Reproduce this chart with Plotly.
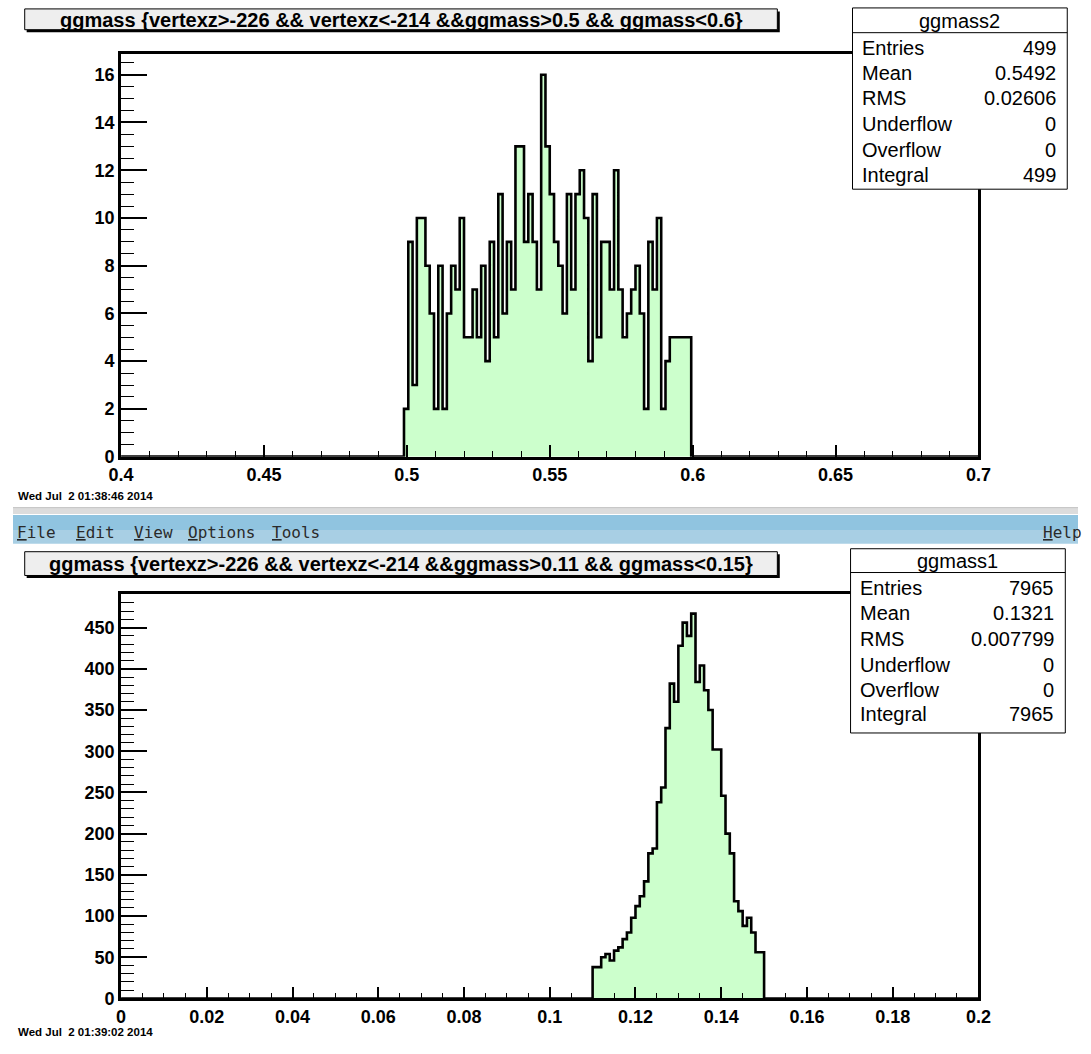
import numpy as np
import plotly.graph_objects as go

W, H = 1091, 1054

# ---------------- data ----------------
top_title = "ggmass {vertexz>-226 && vertexz<-214 &&ggmass>0.5 && ggmass<0.6}"
bot_title = "ggmass {vertexz>-226 && vertexz<-214 &&ggmass>0.11 && ggmass<0.15}"

top_bin_lo = 0.499
top_bin_w = 0.0015
top_counts = [2, 9, 3, 10, 10, 8, 6, 2, 8, 2, 6, 8, 7, 10, 5, 5, 7, 5, 8, 4, 9, 5, 11,
              6, 9, 7, 13, 13, 9, 11, 9, 7, 16, 13, 11, 9, 8, 6, 11, 7, 11, 12, 10, 4, 11,
              5, 9, 9, 7, 12, 7, 5, 6, 7, 8, 6, 2, 9, 7, 10, 2, 4, 5, 5, 5, 5, 5]

bot_bin_lo = 0.11
bot_bin_w = 0.001
bot_counts = [38, 38, 50, 54, 46, 58, 62, 72, 80, 98, 112, 124, 142, 176, 182, 238, 256,
              328, 382, 360, 428, 456, 440, 467, 384, 404, 374, 350, 302, 302, 246, 200,
              176, 118, 106, 88, 98, 80, 56, 56]

top_stats_name = "ggmass2"
top_stats_labels = ["Entries", "Mean", "RMS", "Underflow", "Overflow", "Integral"]
top_stats_values = ["499", "0.5492", "0.02606", "0", "0", "499"]
bot_stats_name = "ggmass1"
bot_stats_labels = ["Entries", "Mean", "RMS", "Underflow", "Overflow", "Integral"]
bot_stats_values = ["7965", "0.1321", "0.007799", "0", "0", "7965"]

top_date = "Wed Jul  2 01:38:46 2014"
bot_date = "Wed Jul  2 01:39:02 2014"
menu_items = ["File", "Edit", "View", "Options", "Tools"]
menu_help = "Help"

# ---------------- helpers ----------------
def PX(x):
    return x / W

def PY(y):
    return 1 - y / H

def step_xy(lo, w, counts, xmin, xmax):
    edges = lo + w * np.arange(len(counts) + 1)
    xs = [xmin, edges[0], edges[0]] + list(edges[1:-1]) + [edges[-1], edges[-1], xmax]
    ys = [0, 0, counts[0]] + list(counts[1:]) + [counts[-1], 0, 0]
    return xs, ys

FILL = "#ccffcc"
SANS = "Liberation Sans"
BOLD = dict(family=SANS, size=18, color="black", weight="bold")

fig = go.Figure()

xs, ys = step_xy(top_bin_lo, top_bin_w, top_counts, 0.4, 0.7)
fig.add_trace(go.Scatter(x=xs, y=ys, mode="lines", line=dict(color="black", width=2.6, shape="hv"),
                         fill="tozeroy", fillcolor=FILL, xaxis="x", yaxis="y", showlegend=False,
                         hoverinfo="skip"))
xs, ys = step_xy(bot_bin_lo, bot_bin_w, bot_counts, 0.0, 0.2)
fig.add_trace(go.Scatter(x=xs, y=ys, mode="lines", line=dict(color="black", width=2.6, shape="hv"),
                         fill="tozeroy", fillcolor=FILL, xaxis="x2", yaxis="y2", showlegend=False,
                         hoverinfo="skip"))

def xax(rng, dtick, mdtick, t0, anchor):
    return dict(domain=[PX(110.7), PX(989)], range=rng, anchor=anchor, dtick=dtick, tick0=t0,
                ticks="inside", ticklen=12, tickwidth=1.6, tickcolor="black",
                minor=dict(dtick=mdtick, tick0=t0, ticks="inside", ticklen=6, tickwidth=1.4, tickcolor="black"),
                showline=True, linewidth=2.8, linecolor="black", mirror=True,
                showgrid=False, zeroline=False, tickfont=BOLD, fixedrange=True)

def yax(rng, dtick, mdtick, dom, anchor):
    return dict(domain=dom, range=rng, anchor=anchor, dtick=dtick, tick0=0,
                ticks="inside", ticklen=26, tickwidth=1.6, tickcolor="black",
                minor=dict(dtick=mdtick, tick0=0, ticks="inside", ticklen=13, tickwidth=1.4, tickcolor="black"),
                showline=True, linewidth=2.8, linecolor="black", mirror=True,
                showgrid=False, zeroline=False, tickfont=BOLD, fixedrange=True)

shapes = []
annotations = []

# menu / window chrome
shapes.append(dict(type="rect", xref="paper", yref="paper", x0=0, x1=1, y0=PY(519), y1=PY(512),
                   fillcolor="#dcdcdc", line=dict(width=0), layer="above"))
shapes.append(dict(type="line", xref="paper", yref="paper", x0=0, x1=1, y0=PY(512.5), y1=PY(512.5),
                   line=dict(color="#c4c4c4", width=1), layer="above"))
shapes.append(dict(type="rect", xref="paper", yref="paper", x0=0, x1=1, y0=PY(535), y1=PY(520),
                   fillcolor="#90c4e0", line=dict(width=0), layer="above"))
shapes.append(dict(type="rect", xref="paper", yref="paper", x0=0, x1=1, y0=PY(549), y1=PY(535),
                   fillcolor="#a8cfe4", line=dict(width=0), layer="above"))

menu_x = [2, 62, 122, 177, 263]
for name, mx in zip(menu_items, menu_x):
    annotations.append(dict(x=PX(mx), y=PY(538), xref="paper", yref="paper", xanchor="left",
                            yanchor="middle", showarrow=False,
                            text="<u>" + name[0] + "</u>" + name[1:],
                            font=dict(family="DejaVu Sans Mono", size=16, color="#2a2a2a")))
annotations.append(dict(x=PX(1053), y=PY(538), xref="paper", yref="paper", xanchor="left",
                        yanchor="middle", showarrow=False,
                        text="<u>" + menu_help[0] + "</u>" + menu_help[1:],
                        font=dict(family="DejaVu Sans Mono", size=16, color="#2a2a2a")))

# title boxes
def title_box(y0, y1, text):
    shapes.append(dict(type="rect", xref="paper", yref="paper", x0=PX(14), x1=PX(785.5),
                       y0=PY(y1 + 2.5), y1=PY(y0 + 2.5), fillcolor="black", line=dict(width=0),
                       layer="above"))
    shapes.append(dict(type="rect", xref="paper", yref="paper", x0=PX(12), x1=PX(783),
                       y0=PY(y1), y1=PY(y0), fillcolor="#eeeeee", line=dict(color="black", width=1),
                       layer="above"))
    annotations.append(dict(x=PX(397.5), y=PY((y0 + y1) / 2 + 0.5), xref="paper", yref="paper",
                            xanchor="center", yanchor="middle", showarrow=False, text=text,
                            font=dict(family=SANS, size=20, color="black", weight="bold")))

title_box(9, 30, top_title)
title_box(557, 581, bot_title)

# stats boxes
def stats_box(x0, x1, y0, y1, ydiv, yhead, rows_y, name, labels, values):
    shapes.append(dict(type="rect", xref="paper", yref="paper", x0=PX(x0), x1=PX(x1),
                       y0=PY(y1), y1=PY(y0), fillcolor="white", line=dict(color="black", width=1),
                       layer="above"))
    shapes.append(dict(type="line", xref="paper", yref="paper", x0=PX(x0), x1=PX(x1),
                       y0=PY(ydiv), y1=PY(ydiv), line=dict(color="black", width=1), layer="above"))
    annotations.append(dict(x=PX((x0 + x1) / 2), y=PY(yhead), xref="paper", yref="paper",
                            xanchor="center", yanchor="middle", showarrow=False, text=name,
                            font=dict(family=SANS, size=20, color="black")))
    for lab, val, ry in zip(labels, values, rows_y):
        annotations.append(dict(x=PX(x0 + 8), y=PY(ry), xref="paper", yref="paper",
                                xanchor="left", yanchor="middle", showarrow=False, text=lab,
                                font=dict(family=SANS, size=20, color="black")))
        annotations.append(dict(x=PX(x1 - 10), y=PY(ry), xref="paper", yref="paper",
                                xanchor="right", yanchor="middle", showarrow=False, text=val,
                                font=dict(family=SANS, size=20, color="black")))

stats_box(860, 1080, 8, 191, 33, 21, [48, 74, 99, 125, 151, 177],
          top_stats_name, top_stats_labels, top_stats_values)
stats_box(858, 1078, 554, 740, 578, 566, [594, 619, 645, 671, 697, 721],
          bot_stats_name, bot_stats_labels, bot_stats_values)

# dates
annotations.append(dict(x=PX(3), y=PY(501), xref="paper", yref="paper", xanchor="left",
                        yanchor="middle", showarrow=False, text=top_date,
                        font=dict(family=SANS, size=11.5, color="black", weight="bold")))
annotations.append(dict(x=PX(3), y=PY(1042), xref="paper", yref="paper", xanchor="left",
                        yanchor="middle", showarrow=False, text=bot_date,
                        font=dict(family=SANS, size=11.5, color="black", weight="bold")))

fig.update_layout(
    width=W, height=H, margin=dict(l=0, r=0, t=0, b=0), autosize=False,
    paper_bgcolor="white", plot_bgcolor="white", showlegend=False,
    xaxis=xax([0.4, 0.7], 0.05, 0.01, 0.4, "y"),
    yaxis=yax([0, 16.85], 2, 0.5, [PY(461), PY(55)], "x"),
    xaxis2=xax([0.0, 0.2], 0.02, 0.005, 0.0, "y2"),
    yaxis2=yax([0, 490.4], 50, 10, [PY(1008), PY(600)], "x2"),
    shapes=shapes, annotations=annotations,
)

fig.write_html("out.html")
